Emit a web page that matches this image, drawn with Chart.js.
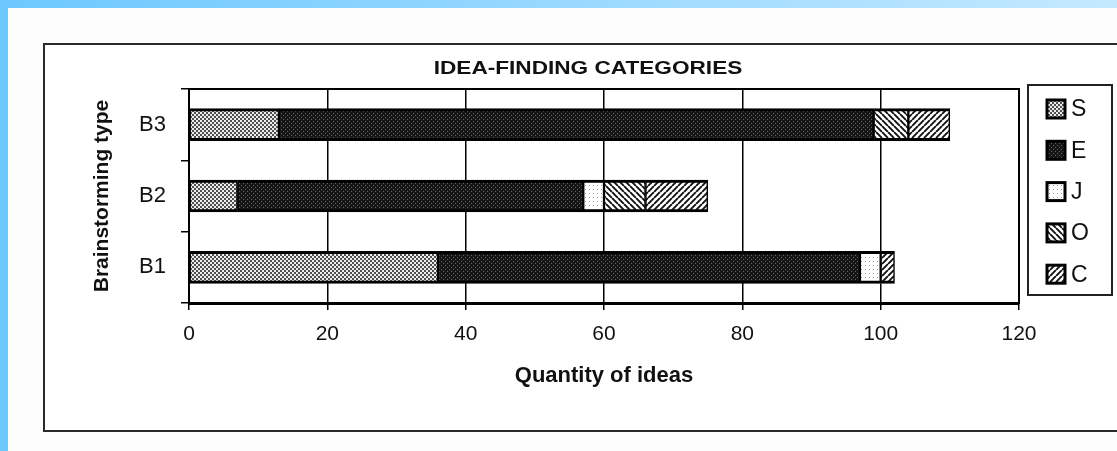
<!DOCTYPE html>
<html>
<head>
<meta charset="utf-8">
<script src="https://cdn.jsdelivr.net/npm/chart.js@4/dist/chart.umd.min.js"></script>
<style>
  html, body { margin: 0; padding: 0; background: #fcfcfc; }
  #c { display: block; }
</style>
</head>
<body>
<canvas id="c" width="1117" height="451"></canvas>
<script>
// ---- data ----
const categories = ['B3', 'B2', 'B1'];
const seriesNames = ['S', 'E', 'J', 'O', 'C'];
const sValues = [13, 7, 36];
const eValues = [86, 50, 61];
const jValues = [0, 3, 3];
const oValues = [5, 6, 0];
const cValues = [6, 9, 2];
const xTicks = [0, 20, 40, 60, 80, 100, 120];
const chartTitle = 'IDEA-FINDING CATEGORIES';
const xTitle = 'Quantity of ideas';
const yTitle = 'Brainstorming type';

// ---- patterns ----
function tile(size, draw) {
  const cv = document.createElement('canvas');
  cv.width = size; cv.height = size;
  const g = cv.getContext('2d');
  draw(g, size);
  return document.getElementById('c').getContext('2d').createPattern(cv, 'repeat');
}
const patS = tile(4, (g) => {
  g.fillStyle = '#505050'; g.fillRect(0, 0, 4, 4);
  g.fillStyle = '#ececec'; g.fillRect(0, 0, 2, 2); g.fillRect(2, 2, 2, 2);
});
const patE = tile(4, (g) => {
  g.fillStyle = '#161616'; g.fillRect(0, 0, 4, 4);
  g.fillStyle = '#626262'; g.fillRect(1, 1, 1, 1); g.fillRect(3, 3, 1, 1);
});
const patJ = tile(4, (g) => {
  g.fillStyle = '#ffffff'; g.fillRect(0, 0, 4, 4);
  g.fillStyle = '#a0a0a0'; g.fillRect(1, 1, 1, 1);
});
function hatch(dir) {
  return tile(6, (g, s) => {
    g.fillStyle = '#ffffff'; g.fillRect(0, 0, s, s);
    g.strokeStyle = '#111'; g.lineWidth = 1.9;
    g.beginPath();
    for (const o of [-s, 0, s]) {
      if (dir === 'back') { g.moveTo(o, 0); g.lineTo(o + s, s); }
      else { g.moveTo(o, s); g.lineTo(o + s, 0); }
    }
    g.stroke();
  });
}
const patO = hatch('back');
const patC = hatch('fwd');
const fills = [patS, patE, patJ, patO, patC];
const valueArrays = [sValues, eValues, jValues, oValues, cValues];

const FONT = '"Liberation Sans", Arial, Helvetica, sans-serif';

const datasets = seriesNames.map((name, i) => ({
  label: name,
  data: valueArrays[i],
  backgroundColor: fills[i],
  borderColor: '#000',
  borderWidth: (ctx) => ctx.raw === 0 ? 0 : { top: 3, bottom: 3, left: 1.5, right: 1.5 },
  borderSkipped: false,
  barThickness: 32
}));

const decor = {
  id: 'decor',
  beforeDraw(chart) {
    const ctx = chart.ctx;
    ctx.save();
    ctx.fillStyle = '#fcfcfc';
    ctx.fillRect(0, 0, chart.width, chart.height);
    const gr = ctx.createLinearGradient(0, 0, chart.width, 0);
    gr.addColorStop(0, '#6cc8ff');
    gr.addColorStop(1, '#c4e9ff');
    ctx.fillStyle = gr;
    ctx.fillRect(0, 0, chart.width, 8);
    ctx.fillStyle = '#6cc8ff';
    ctx.fillRect(0, 0, 8, chart.height);
    // chart box
    ctx.fillStyle = '#ffffff';
    ctx.fillRect(44, 44, chart.width - 44, 387);
    ctx.strokeStyle = '#2a2a2a';
    ctx.lineWidth = 2;
    ctx.strokeRect(44, 44, chart.width + 20, 387);
    ctx.restore();
  },
  afterDraw(chart) {
    const ctx = chart.ctx;
    const a = chart.chartArea;
    ctx.save();
    // plot frame
    ctx.strokeStyle = '#000';
    ctx.lineWidth = 2;
    ctx.strokeRect(a.left, a.top, a.right - a.left, a.bottom - a.top);
    // title
    ctx.fillStyle = '#111';
    ctx.font = 'bold 19px ' + FONT;
    ctx.textAlign = 'center';
    ctx.textBaseline = 'middle';
    ctx.translate(588, 69);
    ctx.scale(1.19, 1);
    ctx.fillText(chartTitle, 0, 0);
    ctx.restore();

    // legend
    ctx.save();
    ctx.fillStyle = '#fff';
    ctx.fillRect(1028, 85, 84, 210);
    ctx.strokeStyle = '#222';
    ctx.lineWidth = 2;
    ctx.strokeRect(1028, 85, 84, 210);
    chart.data.datasets.forEach((ds, i) => {
      const cy = 109 + i * 41.3;
      ctx.fillStyle = ds.backgroundColor;
      ctx.fillRect(1047, cy - 9, 18, 18);
      ctx.strokeStyle = '#000';
      ctx.lineWidth = 3;
      ctx.strokeRect(1047, cy - 9, 18, 18);
      ctx.fillStyle = '#111';
      ctx.font = '23px ' + FONT;
      ctx.textAlign = 'left';
      ctx.textBaseline = 'middle';
      ctx.fillText(ds.label, 1071, cy + 1);
    });
    ctx.restore();
  }
};

new Chart(document.getElementById('c'), {
  type: 'bar',
  data: { labels: categories, datasets },
  plugins: [decor],
  options: {
    indexAxis: 'y',
    responsive: false,
    animation: false,
    devicePixelRatio: 1,
    layout: { padding: { left: 0, right: 98, top: 89, bottom: 0 } },
    plugins: { legend: { display: false }, title: { display: false }, tooltip: { enabled: false } },
    scales: {
      x: {
        stacked: true,
        min: 0, max: 120,
        afterBuildTicks: (s) => { s.ticks = xTicks.map(v => ({ value: v })); },
        afterFit: (s) => { s.height = 148; },
        ticks: { font: { family: FONT, size: 21 }, color: '#111', padding: 12 },
        grid: { color: '#000', lineWidth: 1.5, tickLength: 7 },
        border: { display: true, color: '#000', width: 3 },
        title: { display: true, text: xTitle, color: '#111',
                 font: { family: FONT, size: 22, weight: 'bold' }, padding: { top: 0, bottom: 62 } }
      },
      y: {
        stacked: true,
        afterFit: (s) => { s.width = 189; },
        ticks: { font: { family: FONT, size: 22 }, color: '#111', padding: 15 },
        grid: { drawOnChartArea: false, color: '#000', lineWidth: 1.5, tickLength: 8 },
        border: { display: true, color: '#000', width: 2 },
        title: { display: true, text: yTitle, color: '#111',
                 font: { family: FONT, size: 21, weight: 'bold' }, padding: { top: 90, bottom: 0 } }
      }
    }
  }
});
</script>
</body>
</html>
